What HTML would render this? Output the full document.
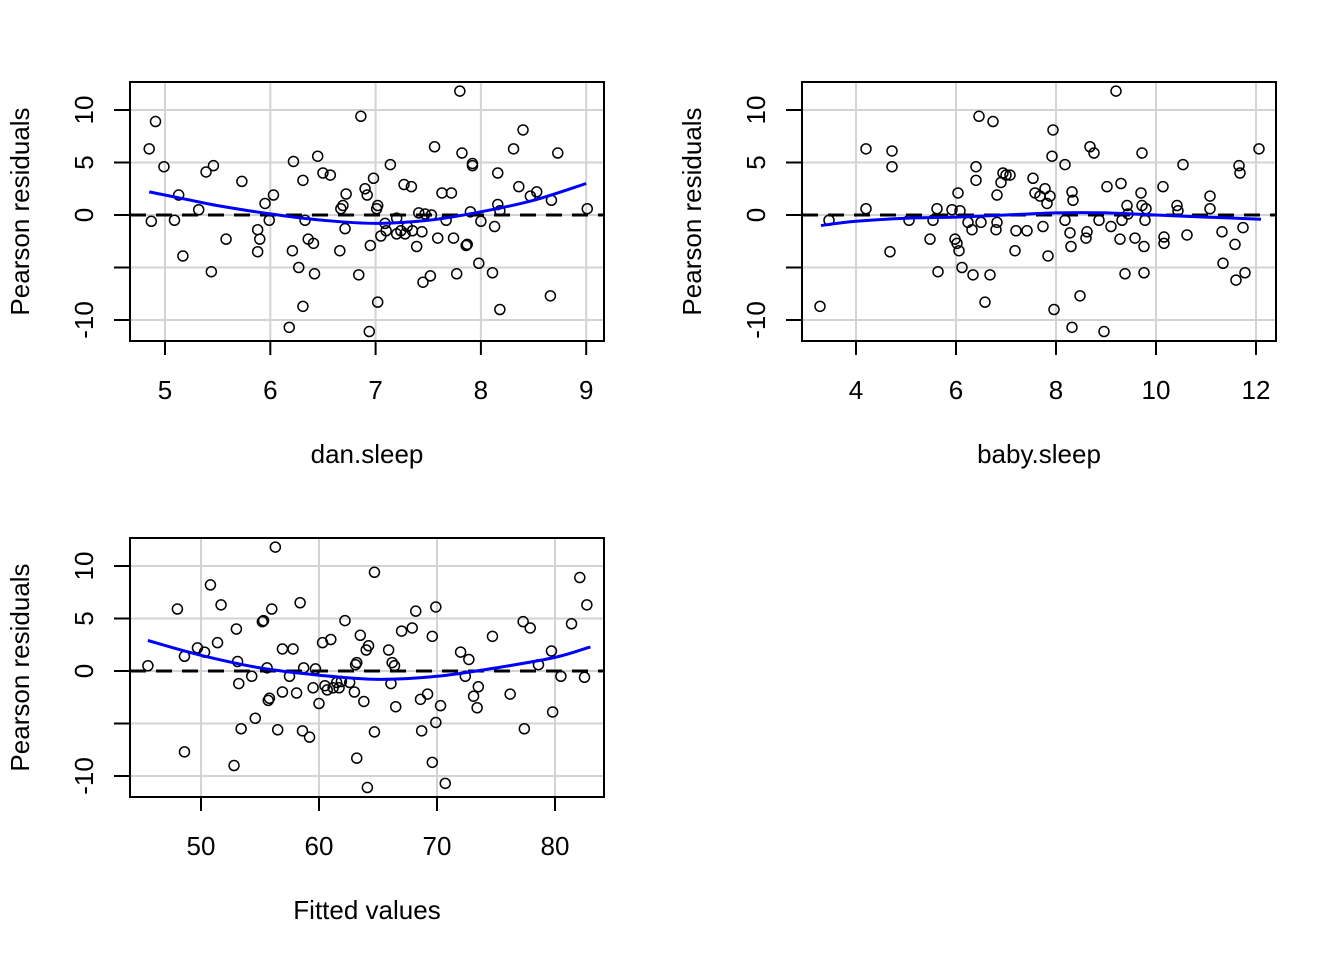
<!DOCTYPE html>
<html><head><meta charset="utf-8"><style>
body{margin:0;background:#fff;}
svg{display:block;font-family:"Liberation Sans",Arial,sans-serif;}
</style></head><body>
<svg id="c" width="1344" height="960" xmlns="http://www.w3.org/2000/svg"></svg>
<script>
// Panel 1: dan.sleep
const p1X=[4.85,4.91,4.87,4.99,5.09,5.13,5.17,5.32,5.39,5.46,5.44,5.58,5.73,5.88,5.88,5.90,5.95,5.99,6.03,6.21,6.22,6.27,6.31,6.31,6.33,6.36,6.41,6.42,6.45,6.50,6.57,6.66,6.67,6.69,6.72,6.71,6.84,6.86,6.90,6.92,6.94,6.95,6.98,7.02,7.01,7.02,7.05,7.09,7.10,7.14,7.20,7.20,7.24,7.27,7.28,7.30,7.34,7.35,7.39,7.41,7.44,7.45,7.47,7.52,7.53,7.56,7.59,7.63,7.67,7.72,7.74,7.77,7.80,7.82,7.86,7.87,7.90,7.92,7.92,7.98,8.00,8.11,8.13,8.16,8.16,8.18,8.18,8.31,8.36,8.40,8.47,8.53,8.66,8.67,8.73,9.01,6.18];
const p1Y=[6.3,8.9,-0.6,4.6,-0.5,1.9,-3.9,0.5,4.1,4.7,-5.4,-2.3,3.2,-1.4,-3.5,-2.3,1.1,-0.5,1.9,-3.4,5.1,-5.0,3.3,-8.7,-0.5,-2.3,-2.7,-5.6,5.6,4.0,3.8,-3.4,0.6,0.9,2.0,-1.3,-5.7,9.4,2.5,1.9,-11.1,-2.9,3.5,0.9,0.6,-8.3,-2.0,-0.8,-1.5,4.8,-1.8,-0.3,-1.5,2.9,-1.8,-1.1,2.7,-1.5,-3.0,0.2,-1.6,-6.4,0.1,-5.8,0.0,6.5,-2.2,2.1,-0.5,2.1,-2.2,-5.6,11.8,5.9,-2.9,-2.8,0.3,4.7,4.9,-4.6,-0.6,-5.5,-1.1,4.0,1.0,-9.0,0.4,6.3,2.7,8.1,1.8,2.2,-7.7,1.4,5.9,0.6,-10.7];
const p1CurveX=[4.85,5.2,5.5,6,6.5,7,7.5,8,8.5,9];
const p1CurveY=[2.2,1.5,0.9,0.1,-0.5,-0.8,-0.5,0.3,1.4,3.0];
const p1Ticks=[5,6,7,8,9];
// Panel 2: baby.sleep
const p2X=[3.28,3.46,4.20,4.20,4.68,4.72,4.72,5.06,5.48,5.54,5.62,5.64,5.92,5.98,6.02,6.04,6.06,6.08,6.12,6.24,6.32,6.34,6.40,6.40,6.46,6.50,6.58,6.68,6.74,6.80,6.82,6.82,6.90,6.94,7.00,7.08,7.18,7.20,7.42,7.54,7.58,7.68,7.78,7.82,7.84,7.88,7.74,7.92,7.94,7.96,8.18,8.18,8.28,8.30,8.32,8.34,8.32,8.48,8.60,8.62,8.68,8.76,8.86,8.96,9.02,9.10,9.20,9.28,9.30,9.32,9.38,9.42,9.44,9.58,9.70,9.72,9.72,9.76,9.76,9.78,9.80,10.14,10.16,10.16,10.42,10.44,10.54,10.62,11.08,11.08,11.32,11.34,11.58,11.60,11.66,11.68,11.74,11.78,12.06];
const p2Y=[-8.7,-0.5,6.3,0.6,-3.5,6.1,4.6,-0.5,-2.3,-0.5,0.6,-5.4,0.5,-2.3,-2.7,2.1,-3.4,0.4,-5.0,-0.7,-1.4,-5.7,4.6,3.3,9.4,-0.7,-8.3,-5.7,8.9,-1.4,1.9,-0.7,3.1,4.0,3.8,3.8,-3.4,-1.5,-1.5,3.5,2.1,1.8,2.5,1.1,-3.9,1.8,-1.1,5.6,8.1,-9.0,4.8,-0.5,-1.7,-3.0,2.2,1.4,-10.7,-7.7,-2.2,-1.6,6.5,5.9,-0.5,-11.1,2.7,-1.1,11.8,-2.3,3.0,-0.5,-5.6,0.9,0.1,-2.2,2.1,5.9,0.9,-5.5,-3.0,-0.5,0.6,2.7,-2.1,-2.7,0.9,0.4,4.8,-1.9,1.8,0.6,-1.6,-4.6,-2.8,-6.2,4.7,4.0,-1.2,-5.5,6.3];
const p2CurveX=[3.3,4,5,6,7,8,9,10,11,12.1];
const p2CurveY=[-1.0,-0.6,-0.3,-0.2,0.0,0.2,0.2,0.0,-0.2,-0.4];
const p2Ticks=[4,6,8,10,12];
// Panel 3: fitted values
const p3X=[45.5,48.0,48.6,48.6,49.7,50.3,50.8,51.4,51.7,52.8,53.0,53.1,53.2,53.4,54.3,54.6,55.2,55.3,55.6,55.7,55.8,56.0,56.3,56.5,56.9,56.9,57.5,57.8,58.1,58.4,58.6,58.7,59.2,59.5,59.7,60.0,60.3,60.5,60.7,61.0,61.2,61.5,61.7,61.9,62.2,62.6,63.0,63.1,63.2,63.2,63.5,63.8,64.0,64.1,64.2,64.7,64.7,65.9,66.1,66.2,66.4,66.5,67.0,67.9,68.2,68.6,68.7,69.2,69.6,69.6,69.9,69.9,70.3,70.7,72.0,72.4,72.7,73.1,73.4,73.5,74.7,76.2,77.3,77.4,77.9,78.6,79.7,79.8,80.5,81.4,82.1,82.5,82.7];
const p3Y=[0.5,5.9,-7.7,1.4,2.2,1.8,8.2,2.7,6.3,-9.0,4.0,0.9,-1.2,-5.5,-0.5,-4.5,4.7,4.8,0.3,-2.8,-2.6,5.9,11.8,-5.6,-2.0,2.1,-0.5,2.1,-2.1,6.5,-5.7,0.3,-6.3,-1.6,0.2,-3.1,2.7,-1.4,-1.8,3.0,-1.6,-1.1,-1.6,-1.0,4.8,-1.1,-2.0,0.6,0.8,-8.3,3.4,-2.9,2.0,-11.1,2.4,9.4,-5.8,2.0,-1.2,0.8,0.5,-3.4,3.8,4.1,5.7,-2.7,-5.7,-2.2,3.3,-8.7,6.1,-4.9,-3.3,-10.7,1.8,-0.5,1.1,-2.4,-3.5,-1.5,3.3,-2.2,4.7,-5.5,4.1,0.6,1.9,-3.9,-0.5,4.5,8.9,-0.6,6.3];
const p3CurveX=[45.5,50,55,60,65,70,75,80,83];
const p3CurveY=[2.9,1.5,0.3,-0.4,-0.8,-0.5,0.3,1.3,2.3];
const p3Ticks=[50,60,70,80];
const yTicks=[-10,-5,0,5,10];
const yTickLabels=["-10","","0","5","10"];

const NS="http://www.w3.org/2000/svg";
const svg=document.getElementById('c');
function mk(tag,attrs,parent){const e=document.createElementNS(NS,tag);for(const k in attrs)e.setAttribute(k,attrs[k]);(parent||svg).appendChild(e);return e;}

function smoothPath(pts){
  let d='M'+pts[0][0].toFixed(1)+' '+pts[0][1].toFixed(1);
  for(let i=0;i<pts.length-1;i++){
    const p0=pts[Math.max(i-1,0)],p1=pts[i],p2=pts[i+1],p3=pts[Math.min(i+2,pts.length-1)];
    const c1=[p1[0]+(p2[0]-p0[0])/6,p1[1]+(p2[1]-p0[1])/6];
    const c2=[p2[0]-(p3[0]-p1[0])/6,p2[1]-(p3[1]-p1[1])/6];
    d+=` C${c1[0].toFixed(1)} ${c1[1].toFixed(1)} ${c2[0].toFixed(1)} ${c2[1].toFixed(1)} ${p2[0].toFixed(1)} ${p2[1].toFixed(1)}`;
  }
  return d;
}

function panel(id,L,T,xTick0px,xTick0,pxPerUnit,ticks,xs,ys,cx,cy,xlabel){
  const R=L+474,B=T+259;
  const g=mk('g',{});
  
  
  const X=v=>xTick0px+(v-xTick0)*pxPerUnit;
  const Y=v=>T+133-v*10.5;
  ticks.forEach(t=>{const l=mk('line',{x1:X(t),x2:X(t),y1:T,y2:B,stroke:'#d3d3d3','stroke-width':2},g);
    });
  yTicks.forEach(t=>{const l=mk('line',{x1:L,x2:R,y1:Y(t),y2:Y(t),stroke:'#d3d3d3','stroke-width':2},g);
    });
  const z=mk('line',{x1:L,x2:R,y1:Y(0),y2:Y(0),stroke:'#000','stroke-width':3,'stroke-dasharray':'16 10'},g);
  
  xs.forEach((v,i)=>{const c=mk('circle',{cx:X(v),cy:Y(ys[i]),r:5,fill:'none',stroke:'#000','stroke-width':1.5},g);
    });
  const pts=cx.map((v,i)=>[X(v),Y(cy[i])]);
  const p=mk('path',{d:smoothPath(pts),fill:'none',stroke:'#0000ff','stroke-width':3,'stroke-linejoin':'round'},g);
  
  const b=mk('rect',{x:L,y:T,width:R-L,height:B-T,fill:'none',stroke:'#000','stroke-width':2},g);
  
  ticks.forEach(t=>{const l=mk('line',{x1:X(t),x2:X(t),y1:B,y2:B+14,stroke:'#000','stroke-width':2},g);
    
    const tx=mk('text',{x:X(t),y:B+58,'text-anchor':'middle','font-size':26},g);tx.textContent=t;
    });
  yTicks.forEach((t,i)=>{const l=mk('line',{x1:L-16,x2:L,y1:Y(t),y2:Y(t),stroke:'#000','stroke-width':2},g);
    
    if(yTickLabels[i]){const tx=mk('text',{x:0,y:0,'text-anchor':'middle','font-size':26,transform:`translate(${L-37},${Y(t)}) rotate(-90)`},g);
      tx.textContent=yTickLabels[i];}});
  const xl=mk('text',{x:(L+R)/2,y:B+122,'text-anchor':'middle','font-size':26},g);xl.textContent=xlabel;
  
  const yl=mk('text',{x:0,y:0,'text-anchor':'middle','font-size':26,transform:`translate(${L-101},${(T+B)/2}) rotate(-90)`},g);
  yl.textContent='Pearson residuals';
}
panel('dan-sleep',130,82,165,5,105.3,p1Ticks,p1X,p1Y,p1CurveX,p1CurveY,'dan.sleep');
panel('baby-sleep',802,82,856,4,50,p2Ticks,p2X,p2Y,p2CurveX,p2CurveY,'baby.sleep');
panel('fitted-values',130,538,201,50,11.8,p3Ticks,p3X,p3Y,p3CurveX,p3CurveY,'Fitted values');
</script>
</body></html>
